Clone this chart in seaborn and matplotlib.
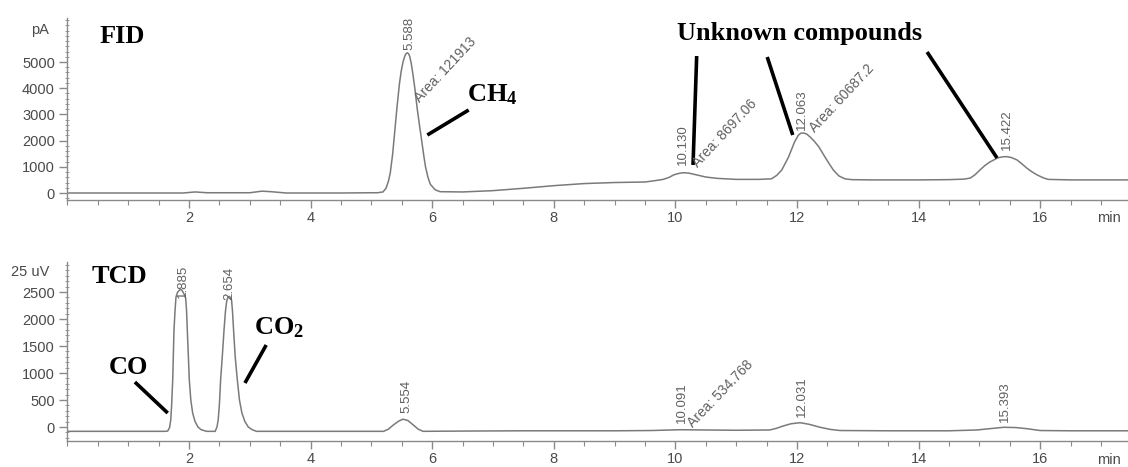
import matplotlib
matplotlib.use("Agg")
import matplotlib.pyplot as plt
import seaborn as sns
import pandas as pd
from matplotlib.ticker import MultipleLocator

# ---------------- data ----------------
fid_time = [0.0, 1.0, 1.9, 2.1, 2.3, 3.0, 3.2, 3.35, 3.6, 4.5, 5.0, 5.1, 5.19, 5.24,
            5.28, 5.31, 5.35, 5.39, 5.42, 5.46, 5.49, 5.52, 5.55, 5.57, 5.59, 5.61,
            5.63, 5.655, 5.68, 5.72, 5.75, 5.79, 5.83, 5.86, 5.89, 5.93, 5.97,
            6.05, 6.13, 6.5, 7.0, 7.5, 8.0, 8.5, 9.0, 9.5, 9.66, 9.8, 9.9, 9.97, 10.05,
            10.13, 10.22, 10.35, 10.5, 10.68, 11.0, 11.37, 11.58, 11.67, 11.75, 11.86,
            11.96, 12.02, 12.06, 12.11, 12.16, 12.22, 12.29, 12.36, 12.44, 12.52, 12.6,
            12.69, 12.79, 12.9, 13.2, 13.5, 14.0, 14.5, 14.75, 14.85, 14.93, 15.01,
            15.09, 15.17, 15.30, 15.38, 15.45, 15.53, 15.62, 15.70, 15.78, 15.87, 15.95,
            16.05, 16.13, 16.5, 17.0, 17.44]
fid_signal = [0, 0, 0, 40, 10, 10, 70, 50, 0, 0, 10, 10, 40, 180,
              450, 760, 1500, 2500, 3250, 4150, 4650, 5000, 5230, 5320, 5350, 5320,
              5220, 4950, 4580, 3900, 3280, 2600, 1950, 1450, 1000, 600, 330,
              120, 50, 40, 90, 180, 280, 360, 400, 420, 470, 520, 600, 690, 745,
              775, 760, 690, 610, 560, 520, 520, 540, 680, 880, 1370,
              1950, 2200, 2280, 2290, 2250, 2130, 1960, 1760, 1450, 1150, 870,
              650, 540, 510, 500, 500, 500, 510, 530, 570, 700, 880,
              1050, 1180, 1340, 1380, 1390, 1350, 1260, 1110, 950, 800, 690,
              580, 520, 500, 500, 500]

tcd_time = [0.0, 1.0, 1.6, 1.65, 1.68, 1.70, 1.715, 1.732, 1.753, 1.77, 1.786, 1.81, 1.83,
            1.85, 1.865, 1.88, 1.90, 1.925, 1.946, 1.96, 1.972, 1.99, 2.005, 2.03, 2.06,
            2.10, 2.148, 2.2, 2.29, 2.43, 2.46, 2.48, 2.50, 2.52, 2.55, 2.576, 2.60,
            2.62, 2.64, 2.66, 2.68, 2.70, 2.715, 2.733, 2.76, 2.795, 2.83, 2.87, 2.92,
            2.975, 3.04, 3.11, 3.5, 4.5, 5.0, 5.20, 5.28, 5.36, 5.45, 5.52, 5.60, 5.69,
            5.77, 5.85, 6.5, 7.5, 9.0, 9.6, 10.09, 10.5, 11.0, 11.55, 11.66, 11.77, 11.9,
            12.05, 12.2, 12.38, 12.55, 12.71, 13.5, 14.5, 14.96, 15.17, 15.4,
            15.6, 15.78, 16.0, 16.5, 17.44]
tcd_signal = [-80, -80, -80, -75, -10, 130, 420, 870, 1796, 2150, 2407, 2490, 2520,
              2540, 2545, 2540, 2500, 2450, 2380, 2150, 1796, 1300, 870, 500, 260,
              100, 0, -50, -80, -80, 0, 130, 420, 870, 1350, 1796, 2150,
              2330, 2400, 2420, 2400, 2350, 2150, 1796, 1300, 870, 500, 260, 100,
              0, -50, -80, -80, -80, -80, -80, -40, 37, 110, 145, 120, 37,
              -40, -80, -75, -70, -70, -65, -50, -55, -60, -55, -25, 18, 60,
              80, 50, -5, -45, -65, -70, -70, -55, -31, -5,
              -10, -31, -65, -70, -70]

fid_peak_rt = ["5.588", "10.130", "12.063", "15.422"]
fid_peak_pos = [(5.62, 5460), (10.12, 1070), (12.08, 2405), (15.45, 1640)]
fid_area = ["Area: 121913", "Area: 8697.06", "Area: 60687.2"]
fid_area_pos = [(5.75, 3550), (10.32, 1070), (12.25, 2405)]

tcd_peak_rt = ["1.885", "2.654", "5.554", "10.091", "12.031", "15.393"]
tcd_peak_pos = [(1.90, 2390), (2.67, 2350), (5.58, 260), (10.11, 75), (12.08, 185), (15.42, 95)]
tcd_area = ["Area: 534.768"]
tcd_area_pos = [(10.24, 40)]

fid_yticks = [0, 1000, 2000, 3000, 4000, 5000]
tcd_yticks = [0, 500, 1000, 1500, 2000, 2500]
x_ticks = [2, 4, 6, 8, 10, 12, 14, 16]

# ---------------- style ----------------
sns.set_style("ticks")
plt.rcParams["font.family"] = ["Liberation Sans", "DejaVu Sans"]
plt.rcParams["mathtext.fontset"] = "custom"
plt.rcParams["mathtext.bf"] = "Liberation Serif:bold"
plt.rcParams["mathtext.rm"] = "Liberation Serif"

W, H = 1128, 467
fig = plt.figure(figsize=(W / 100, H / 100), dpi=100)
fig.patch.set_facecolor("white")

x0 = 67.4
ax1 = fig.add_axes([x0 / W, 1 - 200 / H, 1 - x0 / W, 182 / H])
ax2 = fig.add_axes([x0 / W, 1 - 441 / H, 1 - x0 / W, 179 / H])

line_col = "#7a7a7a"
tick_col = "#4a4a4a"
spine_col = "#8a8a8a"

fid_df = pd.DataFrame({"time": fid_time, "signal": fid_signal})
tcd_df = pd.DataFrame({"time": tcd_time, "signal": tcd_signal})
sns.lineplot(data=fid_df, x="time", y="signal", ax=ax1, color=line_col, lw=1.1, sort=False)
sns.lineplot(data=tcd_df, x="time", y="signal", ax=ax2, color=line_col, lw=1.1, sort=False)

ax1.set_xlim(0, (W - x0) / 60.8)
ax2.set_xlim(0, (W - x0) / 60.8)
ax1.set_ylim(-267, 6680)
ax2.set_ylim(-259, 3056)

for ax, yt, ymin in [(ax1, fid_yticks, 200), (ax2, tcd_yticks, 100)]:
    ax.set_xlabel("")
    ax.set_ylabel("")
    ax.set_facecolor("white")
    for s in ["top", "right"]:
        ax.spines[s].set_visible(False)
    for s in ["left", "bottom"]:
        ax.spines[s].set_color(spine_col)
        ax.spines[s].set_linewidth(1.0)
    ax.set_xticks(x_ticks)
    ax.set_xticklabels([str(v) for v in x_ticks])
    ax.xaxis.set_minor_locator(MultipleLocator(0.5))
    ax.set_yticks(yt)
    ax.set_yticklabels([str(v) for v in yt])
    ax.yaxis.set_minor_locator(MultipleLocator(ymin))
    ax.tick_params(axis="x", which="major", direction="out", length=6, width=1,
                   color=spine_col, labelcolor=tick_col, labelsize=10.5, pad=2)
    ax.tick_params(axis="x", which="minor", direction="out", length=3.5, width=0.8,
                   color=spine_col)
    ax.tick_params(axis="y", which="major", direction="out", length=6, width=1,
                   color=spine_col, labelcolor=tick_col, labelsize=10.5, pad=3)
    ax.tick_params(axis="y", which="minor", direction="inout", length=3, width=0.6,
                   color=spine_col)

# unit labels and min
fig.text(40 / W, 1 - 30 / H, "pA", ha="center", va="center", fontsize=10.5, color=tick_col)
fig.text(30 / W, 1 - 272 / H, "25 uV", ha="center", va="center", fontsize=10.5, color=tick_col)
fig.text(1097 / W, 1 - 218 / H, "min", ha="left", va="center", fontsize=10.5, color=tick_col)
fig.text(1097 / W, 1 - 460 / H, "min", ha="left", va="center", fontsize=10.5, color=tick_col)

# peak retention-time labels
lab_col = "#606060"
for txt, (x, y) in zip(fid_peak_rt, fid_peak_pos):
    ax1.text(x, y, txt, rotation=90, ha="center", va="bottom", fontsize=9.5, color=lab_col)
for txt, (x, y) in zip(fid_area, fid_area_pos):
    ax1.text(x, y, txt, rotation=47, rotation_mode="anchor", ha="left", va="center",
             fontsize=10, color=lab_col)
for txt, (x, y) in zip(tcd_peak_rt, tcd_peak_pos):
    ax2.text(x, y, txt, rotation=90, ha="center", va="bottom", fontsize=9.5, color=lab_col)
for txt, (x, y) in zip(tcd_area, tcd_area_pos):
    ax2.text(x, y, txt, rotation=46, rotation_mode="anchor", ha="left", va="center",
             fontsize=10, color=lab_col)

# bold annotations
serif = ["Liberation Serif", "DejaVu Serif"]
ax1.text(0.90, 5990, "FID", ha="center", va="center", fontsize=19, fontweight="bold",
         family=serif, color="black")
ax1.text(12.05, 6100, "Unknown compounds", ha="center", va="center", fontsize=19,
         fontweight="bold", family=serif, color="black")
ax1.text(6.58, 3740, r"$\mathbf{CH_4}$", ha="left", va="center", fontsize=19, color="black")
ax2.text(0.85, 2796, "TCD", ha="center", va="center", fontsize=19, fontweight="bold",
         family=serif, color="black")
ax2.text(1.0, 1093, "CO", ha="center", va="center", fontsize=19, fontweight="bold",
         family=serif, color="black")
ax2.text(3.07, 1833, r"$\mathbf{CO_2}$", ha="left", va="center", fontsize=19, color="black")

# pointer lines
ax1.plot([6.60, 5.92], [3168, 2214], color="black", lw=2.6, solid_capstyle="butt")
ax1.plot([10.35, 10.29], [5229, 1069], color="black", lw=2.6, solid_capstyle="butt")
ax1.plot([11.51, 11.93], [5191, 2214], color="black", lw=2.6, solid_capstyle="butt")
ax1.plot([14.14, 15.29], [5382, 1336], color="black", lw=2.6, solid_capstyle="butt")
ax2.plot([1.11, 1.65], [833, 259], color="black", lw=2.6, solid_capstyle="butt")
ax2.plot([3.27, 2.92], [1519, 815], color="black", lw=2.6, solid_capstyle="butt")

fig.savefig("out.png", dpi=100, facecolor="white")
